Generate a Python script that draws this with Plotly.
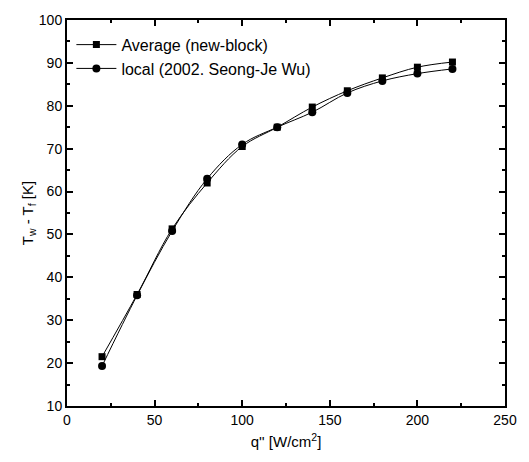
import plotly.graph_objects as go

q = [20, 40, 60, 80, 100, 120, 140, 160, 180, 200, 220]
avg = [21.5, 36.0, 51.3, 62.0, 70.5, 75.0, 79.7, 83.5, 86.5, 89.0, 90.2]
local = [19.3, 35.8, 50.8, 63.0, 71.0, 75.0, 78.5, 83.0, 85.8, 87.5, 88.6]

fig = go.Figure()
fig.add_trace(go.Scatter(x=q, y=avg, mode="lines+markers", name="Average (new-block)",
                         line=dict(color="black", width=1, shape="spline"),
                         marker=dict(symbol="square", size=7, color="black")))
fig.add_trace(go.Scatter(x=q, y=local, mode="lines+markers", name="local (2002. Seong-Je Wu)",
                         line=dict(color="black", width=1, shape="spline"),
                         marker=dict(symbol="circle", size=8, color="black")))

axis_common = dict(showline=True, linecolor="black", linewidth=2, mirror="ticks",
                   ticks="inside", ticklen=6, tickcolor="black", tickwidth=1.5, showgrid=False,
                   zeroline=False, tickfont=dict(size=14, color="black"))
fig.update_xaxes(range=[0, 250], dtick=50, title=dict(text="q'' [W/cm<sup>2</sup>]", font=dict(size=15, color="black"), standoff=10),
                 minor=dict(ticks="inside", ticklen=3, dtick=25, tickcolor="black"), **axis_common)
fig.update_yaxes(range=[10, 100], dtick=10, title=dict(text="T<sub>w</sub> - T<sub>f</sub> [K]", font=dict(size=15, color="black"), standoff=2),
                 minor=dict(ticks="inside", ticklen=3, dtick=5, tickcolor="black"), **axis_common)

fig.update_layout(width=529, height=462, margin=dict(l=67, r=18, t=16, b=56),
                  paper_bgcolor="white", plot_bgcolor="white",
                  font=dict(family="Liberation Sans, Arial, sans-serif", color="black"),
                  legend=dict(x=0.01, y=0.98, xanchor="left", yanchor="top", bgcolor="rgba(0,0,0,0)",
                              font=dict(size=16, color="black"), itemwidth=40, tracegroupgap=0))
fig.write_html("out.html")
